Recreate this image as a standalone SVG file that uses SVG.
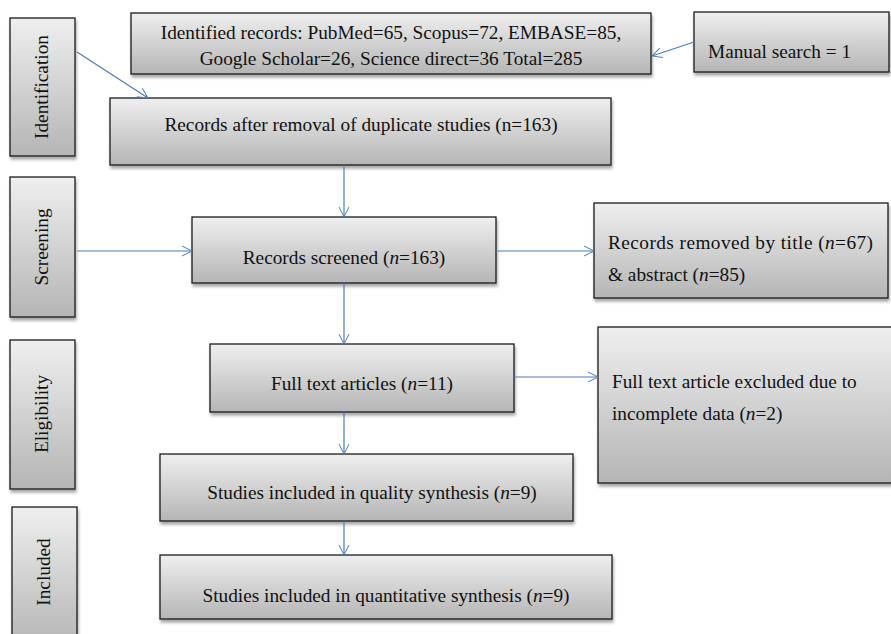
<svg xmlns="http://www.w3.org/2000/svg" width="891" height="634" viewBox="0 0 891 634">
<defs>
<linearGradient id="g" x1="0" y1="0" x2="0" y2="1">
<stop offset="0" stop-color="#efefef"/>
<stop offset="1" stop-color="#b5b5b5"/>
</linearGradient>
<filter id="sh" x="-10%" y="-10%" width="120%" height="130%">
<feDropShadow dx="1" dy="3" stdDeviation="1.5" flood-color="#000" flood-opacity="0.35"/>
</filter>
<marker id="ar" viewBox="0 0 12 12" refX="11" refY="6" markerWidth="12" markerHeight="12" markerUnits="userSpaceOnUse" orient="auto">
<path d="M1,1 L11,6 L1,11" fill="none" stroke="#4a7ebb" stroke-width="1"/>
</marker>
<style>
.b{fill:url(#g);stroke:#1a1a1a;stroke-width:1.3;filter:url(#sh)}
.t{font-family:"Liberation Serif","Times New Roman",serif;font-size:19.3px;fill:#111}
.m{text-anchor:middle}
.c{stroke:#4a7ebb;stroke-width:1.2;fill:none;marker-end:url(#ar)}
</style>
</defs>
<g id="identification"><rect class="b" x="10" y="18" width="65" height="138"/><text class="t m" transform="translate(48,87) rotate(-90)">Identification</text></g>
<g id="screening"><rect class="b" x="10" y="177" width="65" height="140"/><text class="t m" transform="translate(48,247) rotate(-90)">Screening</text></g>
<g id="eligibility"><rect class="b" x="10" y="340" width="65" height="149"/><text class="t m" transform="translate(48,414) rotate(-90)">Eligibility</text></g>
<g id="included"><rect class="b" x="12" y="507" width="65" height="140"/><text class="t m" transform="translate(50,572) rotate(-90)">Included</text></g>
<g id="identified"><rect class="b" x="131" y="13" width="520" height="61"/><text class="t m" x="391" y="39">Identified records: PubMed=65, Scopus=72, EMBASE=85,</text><text class="t m" x="391" y="65">Google Scholar=26, Science direct=36 Total=285</text></g>
<g id="manual"><rect class="b" x="694" y="12" width="195" height="60"/><text class="t" x="708" y="58">Manual search = 1</text></g>
<g id="dedup"><rect class="b" x="110" y="98" width="501" height="67"/><text class="t m" x="361" y="131">Records after removal of duplicate studies (n=163)</text></g>
<g id="screened"><rect class="b" x="192" y="217" width="304" height="66"/><text class="t m" x="344" y="264">Records screened (<tspan font-style="italic">n</tspan>=163)</text></g>
<g id="removed"><rect class="b" x="594" y="203" width="294" height="95"/><text class="t" x="608" y="249" textLength="265" lengthAdjust="spacing">Records removed by title (<tspan font-style="italic">n</tspan>=67)</text><text class="t" x="608" y="281">&amp; abstract (<tspan font-style="italic">n</tspan>=85)</text></g>
<g id="fulltext"><rect class="b" x="210" y="344" width="304" height="68"/><text class="t m" x="362" y="390">Full text articles (<tspan font-style="italic">n</tspan>=11)</text></g>
<g id="excluded"><rect class="b" x="598" y="327" width="296" height="156"/><text class="t" x="612" y="388">Full text article excluded due to</text><text class="t" x="612" y="420">incomplete data (<tspan font-style="italic">n</tspan>=2)</text></g>
<g id="quality"><rect class="b" x="160" y="454" width="413" height="67"/><text class="t m" x="372" y="499">Studies included in quality synthesis (<tspan font-style="italic">n</tspan>=9)</text></g>
<g id="quantitative"><rect class="b" x="160" y="555" width="452" height="64"/><text class="t m" x="386" y="602">Studies included in quantitative synthesis (<tspan font-style="italic">n</tspan>=9)</text></g>
<g id="connectors">
<path class="c" d="M77,52 L148,98"/>
<path class="c" d="M694,42 L652,56"/>
<path class="c" d="M344,165 L344,217"/>
<path class="c" d="M77,251 L192,251"/>
<path class="c" d="M496,251 L594,251"/>
<path class="c" d="M344,283 L344,344"/>
<path class="c" d="M514,377 L598,377"/>
<path class="c" d="M344,412 L344,454"/>
<path class="c" d="M344,521 L344,555"/>
</g>
</svg>
